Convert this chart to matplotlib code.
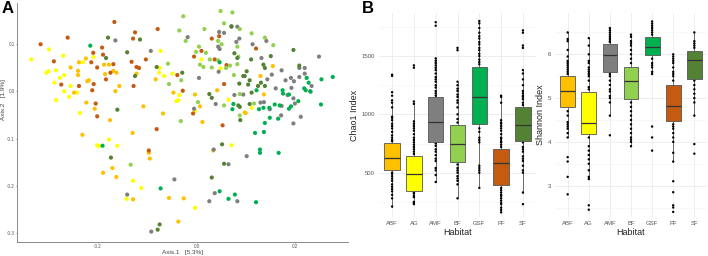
import matplotlib
matplotlib.use("Agg")
import matplotlib.pyplot as plt

plt.rcParams['font.family'] = ['Liberation Sans', 'DejaVu Sans']

habitats = ["ABF", "AG", "AMF", "BF", "GSF", "PF", "SF"]
colors = {"ABF": "#FFC000", "AG": "#FFFF00", "AMF": "#7F7F7F", "BF": "#92D050",
          "GSF": "#00B050", "PF": "#C55A11", "SF": "#548235"}

# ---------------- Panel A: PCoA ----------------
pf_x = [-0.167,-0.262,-0.317,-0.290,-0.192,-0.210,-0.190,-0.214,-0.202,-0.169,-0.175,-0.184,-0.209,-0.275,-0.239,-0.212,-0.205,-0.202,-0.129,-0.125,-0.079,-0.103,-0.132,-0.122,-0.117,-0.128,-0.039,-0.028,-0.005,0.010,0.031,0.046,0.037,0.061,0.056,-0.007,0.053,0.121,-0.081,-0.097]
pf_y = [0.146,0.113,0.099,0.063,0.092,0.081,0.077,0.061,0.050,0.057,0.039,0.025,0.015,0.014,0.011,0.002,-0.026,-0.053,0.111,0.124,0.131,0.067,0.062,0.051,0.049,0.011,0.034,0.001,0.073,0.085,0.111,0.116,0.067,0.055,0.015,-0.047,-0.072,0.090,-0.080,-0.125]

ag_x = [-0.336,-0.300,-0.271,-0.305,-0.301,-0.286,-0.278,-0.289,-0.269,-0.269,-0.286,-0.259,-0.256,-0.243,-0.237,-0.209,-0.231,-0.073,-0.075,-0.076,-0.066,-0.049,-0.035,-0.037,-0.041,0.010,0.049,-0.003,0.065,0.112,-0.178,-0.202,-0.198,-0.161,-0.129,-0.142,0.071,-0.112,-0.003]
ag_y = [0.067,0.088,0.075,0.039,0.042,0.044,0.028,0.018,0.034,0.000,-0.019,-0.012,0.011,-0.003,-0.046,0.072,0.061,0.085,0.049,0.039,0.032,0.037,-0.008,-0.019,-0.021,0.067,0.048,-0.042,-0.018,-0.035,-0.102,-0.114,-0.116,-0.115,-0.189,-0.227,-0.114,-0.204,-0.246]

abf_x = [-0.256,-0.239,-0.225,-0.241,-0.241,-0.219,-0.222,-0.249,-0.224,-0.207,-0.176,-0.188,-0.178,-0.169,-0.163,-0.186,-0.157,-0.165,-0.122,-0.083,-0.047,-0.108,-0.068,-0.003,0.007,0.012,0.042,0.098,0.155,0.130,0.137,0.100,-0.232,-0.130,-0.171,-0.190,-0.163,-0.129,-0.097,-0.095,0.034,-0.056,-0.026,-0.037]
abf_y = [0.050,0.061,0.069,0.043,0.034,0.023,0.021,-0.003,-0.024,-0.037,-0.061,0.056,0.056,0.043,0.039,0.036,0.011,0.000,0.037,0.025,-0.003,-0.032,-0.047,-0.007,-0.032,-0.065,0.002,-0.045,0.053,0.032,-0.007,-0.046,-0.092,-0.088,-0.162,-0.172,-0.181,-0.228,-0.130,-0.142,-0.125,-0.225,-0.226,-0.275]

amf_x = [-0.165,-0.018,-0.093,0.005,0.039,-0.005,0.046,0.056,0.071,0.083,0.087,0.081,0.044,0.047,0.045,0.077,0.142,0.114,0.132,0.249,0.173,0.209,0.220,0.153,0.144,0.220,0.181,0.192,0.198,0.193,0.209,0.234,0.231,0.185,0.197,0.200,0.173,0.137,0.130,0.161,0.095,0.149,0.212,0.197,0.172,-0.045,0.035,0.065,0.037,0.026,0.083,-0.141,0.102,-0.092]
amf_y = [0.107,0.114,0.085,0.028,-0.027,-0.037,0.125,0.123,0.136,0.136,0.111,0.104,0.094,0.089,0.041,-0.008,0.106,0.099,0.070,0.073,0.044,0.049,0.049,0.035,0.025,0.037,0.023,0.028,0.021,0.007,0.030,0.011,0.000,-0.008,-0.015,-0.026,-0.031,-0.023,-0.024,0.006,-0.007,-0.038,-0.054,-0.068,-0.051,-0.186,-0.123,-0.154,-0.215,-0.232,-0.232,-0.218,-0.137,-0.296]

bf_x = [-0.027,0.049,0.073,-0.035,-0.022,0.016,0.056,0.044,0.051,0.083,-0.001,0.005,0.019,0.027,0.007,0.014,0.031,0.044,0.060,0.068,0.083,0.076,-0.058,-0.031,-0.056,0.085,0.003,0.056,0.088,0.088,-0.032,0.112,0.139,0.156,0.117,0.088,-0.134]
bf_y = [0.158,0.169,0.166,0.128,0.106,0.131,0.143,0.106,0.099,0.094,0.083,0.094,0.081,0.067,0.056,0.051,0.050,0.065,0.049,0.054,0.057,0.034,0.058,0.023,0.015,0.073,-0.023,-0.030,-0.051,-0.006,-0.063,0.122,0.113,0.097,-0.026,0.131,-0.155]

sf_x = [-0.180,-0.184,-0.141,-0.161,-0.125,-0.115,-0.081,-0.029,0.071,0.077,0.083,0.026,0.031,0.087,0.085,0.095,0.197,0.111,0.151,0.136,0.139,0.102,0.098,0.108,0.105,0.131,0.125,0.139,0.209,0.112,0.088,0.108,0.089,0.052,0.056,0.031,-0.075,-0.079,-0.174]
sf_y = [0.113,0.070,0.082,-0.039,0.032,0.109,0.051,0.039,0.137,0.080,0.070,-0.006,-0.014,0.016,-0.030,0.032,0.087,0.067,0.074,0.056,0.049,0.042,0.032,0.023,0.014,0.018,0.011,0.011,0.054,-0.003,-0.033,-0.027,-0.061,-0.112,-0.153,-0.182,-0.281,-0.292,-0.140]

gsf_x = [-0.216,0.047,0.075,0.073,0.224,0.228,0.219,0.222,0.232,0.254,0.277,0.175,0.176,0.188,0.207,0.192,0.188,0.159,0.169,0.148,0.136,0.127,0.122,0.253,0.166,0.149,0.139,0.119,0.137,0.129,0.129,0.167,0.121,-0.073,0.047,0.065,0.078,-0.191]
gsf_y = [0.096,0.061,-0.027,-0.038,0.028,0.018,0.006,0.002,-0.001,0.025,0.030,0.002,-0.005,-0.007,-0.021,-0.032,-0.037,-0.028,-0.030,-0.035,-0.035,-0.038,0.002,-0.028,-0.058,-0.056,-0.067,-0.088,-0.086,-0.123,-0.130,-0.130,-0.234,-0.205,-0.211,-0.227,-0.218,-0.115]

pcoa = {"AG": (ag_x, ag_y), "ABF": (abf_x, abf_y), "PF": (pf_x, pf_y),
        "AMF": (amf_x, amf_y), "BF": (bf_x, bf_y), "SF": (sf_x, sf_y),
        "GSF": (gsf_x, gsf_y)}

# ---------------- Panel B: alpha diversity ----------------
chao_q1  = [523, 346, 766, 594, 914, 391, 774]
chao_med = [623, 486, 937, 743, 1151, 580, 909]
chao_q3  = [751, 640, 1151, 909, 1409, 700, 1060]
chao_lo  = [210, 230, 420, 280, 370, 160, 330]
chao_hi  = [1110, 1090, 1480, 1280, 1800, 1160, 1380]
chao_pts = {
    "ABF": [1340,1330,1190,1160,1120,1100,1060,980,970,950,920,900,880,850,820,800,780,770,500,490,470,450,430,400,380,360,340,310,280,210],
    "AG": [1420,1400,1110,1090,940,920,900,880,860,830,800,780,760,740,720,700,680,660,330,320,300,290,250,240,230],
    "AMF": [1790,1760,1480,1460,1440,1420,1400,1380,1350,1320,1300,1280,1250,1230,1200,1180,1160,750,730,700,680,650,620,600,540,520,480,420],
    "BF": [1570,1550,1280,1250,1220,1200,1170,1150,1120,1100,1060,1000,960,930,570,540,520,500,470,450,430,400,280],
    "GSF": [1800,1780,1740,1700,1670,1650,1620,1600,1570,1550,1520,1500,1470,1450,1430,880,850,800,780,760,560,540,520,500,370],
    "PF": [1160,1150,1100,950,930,920,900,880,860,830,800,790,770,760,740,720,370,350,330,310,300,280,260,240,230,200,180,160],
    "SF": [1720,1700,1590,1570,1380,1350,1300,1250,1200,1180,1160,1150,1130,1100,1080,760,720,700,680,640,620,600,560,520,500,330,230],
}

sh_q1  = [4.79, 4.18, 5.60, 4.97, 5.98, 4.47, 5.44]
sh_med = [5.16, 4.44, 5.98, 5.39, 6.16, 4.82, 5.86]
sh_q3  = [5.50, 5.15, 6.24, 5.72, 6.39, 5.29, 6.08]
sh_lo  = [4.10, 3.15, 4.60, 3.90, 5.55, 3.55, 4.60]
sh_hi  = [6.50, 6.37, 6.60, 6.45, 6.75, 6.00, 6.50]
sh_pts = {
    "ABF": [6.5,6.35,6.3,6.1,5.95,5.85,5.8,5.75,5.7,5.65,5.6,5.55,4.7,4.6,4.45,4.4,4.35,4.3,4.2,4.1,3.65,3.55,3.2,2.8],
    "AG": [6.37,6.2,6.0,5.85,5.8,5.7,5.65,5.6,5.55,5.5,5.4,5.25,5.2,4.1,3.9,3.8,3.7,3.6,3.5,3.35,3.2,3.15,2.55,2.45],
    "AMF": [6.6,6.55,6.5,6.45,6.4,6.35,6.3,6.28,5.55,5.5,5.4,5.3,5.2,5.15,5.05,5.0,4.9,4.6,4.15],
    "BF": [6.45,6.4,6.3,6.25,6.2,6.1,6.0,5.9,5.8,4.9,4.8,4.7,4.6,4.5,4.4,4.3,4.2,4.1,4.05,4.0,3.9],
    "GSF": [6.75,6.7,6.65,6.6,6.55,6.5,6.45,5.9,5.8,5.75,5.7,5.6,5.55,4.35,4.1,3.8],
    "PF": [6.0,5.95,5.9,5.85,5.8,5.7,5.6,5.55,5.5,5.4,4.4,4.35,4.3,4.2,4.1,4.0,3.75,3.55,3.1,2.85,2.55,2.5,2.4],
    "SF": [6.5,6.3,6.25,6.2,6.15,5.4,5.3,5.2,5.1,5.0,4.9,4.6,3.95,3.73],
}

W, H = 708, 256
fig = plt.figure(figsize=(W / 100, H / 100), dpi=100)

def frac(l, t, r, b):
    return [l / W, 1 - b / H, (r - l) / W, (b - t) / H]

# Panel A
A_L, A_T, A_R, A_B = 17, 3, 348, 242
axA = fig.add_axes(frac(A_L, A_T, A_R, A_B))
for h, (xs, ys) in pcoa.items():
    axA.scatter(xs, ys, s=9, color=colors[h], edgecolors='none', zorder=3)
axA.set_xlim(-0.365, 0.308)
axA.set_ylim(-0.318, 0.186)
axA.set_xticks([-0.2, 0.0, 0.2])
axA.set_xticklabels(["-0.2", "0.0", "0.2"])
axA.set_yticks([-0.3, -0.2, -0.1, 0.0, 0.1])
axA.set_yticklabels(["-0.3", "-0.2", "-0.1", "0.0", "0.1"])
for s in ["top", "right"]:
    axA.spines[s].set_visible(False)
for s in ["left", "bottom"]:
    axA.spines[s].set_color("#777777")
    axA.spines[s].set_linewidth(0.6)
axA.tick_params(labelsize=3.3, colors="#555555", length=1.0, width=0.4, pad=0.6)
axA.set_xlabel("Axis.1   [5.3%]", fontsize=4.6, color="#444444", va="center")
axA.xaxis.set_label_coords(0.5, -(252.5 - A_B) / (A_B - A_T))
axA.set_ylabel("Axis.2   [1.9%]", fontsize=4.6, color="#444444", va="center")
axA.yaxis.set_label_coords(-(A_L - 4) / (A_R - A_L), (A_B - 100) / (A_B - A_T))
fig.text(2 / W, 1 - 1 / H, "A", fontsize=12, fontweight="bold", va="top", ha="left")
fig.text(362 / W, 1 - 1 / H, "B", fontsize=12, fontweight="bold", va="top", ha="left")

def box_panel(ax, q1, med, q3, lo, hi, pts, ylim, yticks, minor, ylabel):
    stats = []
    for i, h in enumerate(habitats):
        stats.append(dict(q1=q1[i], med=med[i], q3=q3[i], whislo=lo[i], whishi=hi[i], fliers=[]))
    for i, h in enumerate(habitats):
        ax.scatter([i] * len(pts[h]), pts[h], s=3, color="black", edgecolors='none', zorder=2)
    b = ax.bxp(stats, positions=range(len(habitats)), widths=0.7, patch_artist=True,
               showcaps=False, manage_ticks=False,
               boxprops=dict(linewidth=0.6, edgecolor="#555555"),
               whiskerprops=dict(linewidth=0.6, color="#555555"),
               medianprops=dict(linewidth=0.9, color="#333333"))
    for patch, h in zip(b["boxes"], habitats):
        patch.set_facecolor(colors[h])
        patch.set_zorder(3)
    for m in b["medians"]:
        m.set_zorder(4)
    for w in b["whiskers"]:
        w.set_zorder(1)
    ax.set_xlim(-0.6, 6.6)
    ax.set_ylim(*ylim)
    ax.set_xticks(range(len(habitats)))
    ax.set_xticklabels(habitats)
    ax.set_yticks(yticks)
    ax.set_yticks(minor, minor=True)
    ax.grid(True, which="major", color="#EBEBEB", linewidth=0.6)
    ax.grid(True, which="minor", axis="y", color="#F4F4F4", linewidth=0.4)
    ax.set_axisbelow(True)
    for s in ax.spines.values():
        s.set_visible(False)
    ax.tick_params(which="both", length=0, labelsize=4.3, colors="#555555", pad=3)
    ax.set_xlabel("Habitat", fontsize=6.5, labelpad=1, color="#222222")
    ax.set_ylabel(ylabel, fontsize=6.5, labelpad=2, color="#222222")

axC = fig.add_axes(frac(379, 13, 536, 217))
box_panel(axC, chao_q1, chao_med, chao_q3, chao_lo, chao_hi, chao_pts,
          (120, 1869), [500, 1000, 1500], [250, 750, 1250, 1750], "Chao1 Index")

axS = fig.add_axes(frac(555, 13, 707, 217))
box_panel(axS, sh_q1, sh_med, sh_q3, sh_lo, sh_hi, sh_pts,
          (2.283, 6.944), [3, 4, 5, 6], [2.5, 3.5, 4.5, 5.5, 6.5], "Shannon Index")

fig.savefig("out.png", dpi=100)
